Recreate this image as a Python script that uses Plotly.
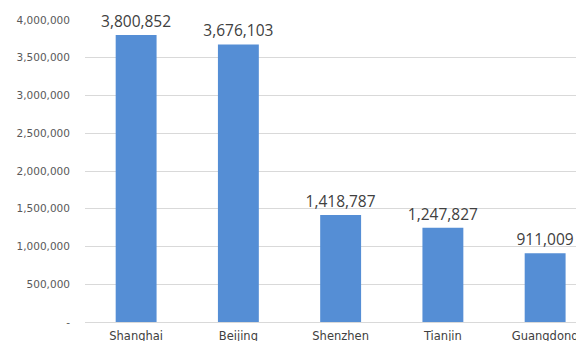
import plotly.graph_objects as go

categories = ["Shanghai", "Beijing", "Shenzhen", "Tianjin", "Guangdong"]
values = [3800852, 3676103, 1418787, 1247827, 911009]
y_tickvals = [0, 500000, 1000000, 1500000, 2000000, 2500000, 3000000, 3500000, 4000000]
y_ticktext = ["-", "500,000", "1,000,000", "1,500,000", "2,000,000", "2,500,000",
              "3,000,000", "3,500,000", "4,000,000"]

labels = [f"{v:,}" for v in values]

fig = go.Figure(go.Bar(
    x=categories, y=values,
    marker=dict(color="#558ED5", line=dict(width=0)),
    text=labels, textposition="outside", constraintext="none",
    outsidetextfont=dict(family="Open Sans", size=15.5, color="#404040"),
    cliponaxis=False,
))

fig.update_layout(
    width=576, height=333,
    margin=dict(l=77, r=0, t=12, b=19, autoexpand=False),
    paper_bgcolor="white", plot_bgcolor="white",
    bargap=0.6, showlegend=False,
    font=dict(family="DejaVu Sans", color="#595959"),
)
fig.update_yaxes(
    range=[0, 4000000], tickvals=y_tickvals, ticktext=y_ticktext,
    showgrid=True, gridcolor="#D9D9D9", gridwidth=1, zeroline=False,
    tickfont=dict(family="DejaVu Sans", size=10.5, color="#595959"),
    ticklabelstandoff=14, showline=False, automargin=False,
)
fig.update_xaxes(
    range=[-0.5, 4.38], showline=True, linecolor="#D9D9D9", linewidth=1,
    tickfont=dict(family="DejaVu Sans", size=11.5, color="#404040"),
    ticks="", ticklabelstandoff=3, automargin=False,
)

fig.write_html("out.html")
